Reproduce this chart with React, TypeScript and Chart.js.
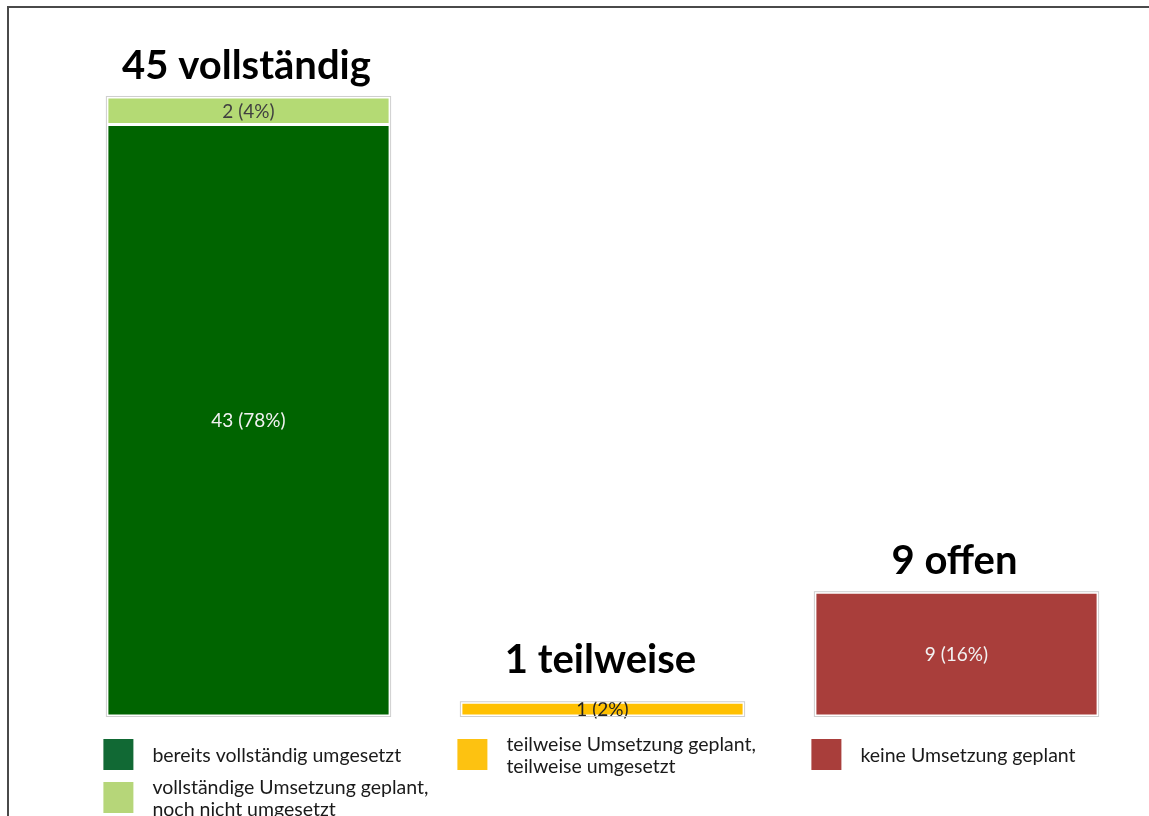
import React, { useEffect, useRef } from "react";
import { Chart, registerables } from "chart.js";
Chart.register(...registerables);

// ---- data ----
const categories = ["vollständig", "teilweise", "offen"];
const umgesetzt = [43, 0, 0];
const geplant = [2, 0, 0];
const teilweise = [0, 1, 0];
const keine = [0, 0, 9];
const legendLines = [
  ["bereits vollständig umgesetzt"],
  ["vollständige Umsetzung geplant,", "noch nicht umgesetzt"],
  ["teilweise Umsetzung geplant,", "teilweise umgesetzt"],
  ["keine Umsetzung geplant"],
];
const yMax = 50;

// ---- style ----
const barColors = ["#006400", "#b4da74", "#ffc000", "#a93e3b"];
const legendColors = ["#116934", "#b6d679", "#fdc211", "#a93e3b"];
const labelColors = ["#f2f2f2", "#404040", "#222222", "#f2f2f2"];
const FONT = "Lato, 'Open Sans', sans-serif";

const W = 1149;
const H = 816;

const overlayPlugin = {
  id: "overlay",
  beforeDraw(chart: any) {
    const ctx = chart.ctx;
    ctx.save();
    ctx.fillStyle = "#ffffff";
    ctx.fillRect(0, 0, chart.width, chart.height);
    ctx.fillStyle = "#4a4a4a";
    ctx.fillRect(7, 6, chart.width - 7, 2);
    ctx.fillRect(7, 6, 2, chart.height - 6);
    ctx.restore();
  },
  afterDatasetsDraw(chart: any) {
    const ctx = chart.ctx;
    const yScale = chart.scales.y;
    const y0 = yScale.getPixelForValue(0);
    const datasets = chart.data.datasets;
    const grand = datasets.reduce(
      (s: number, d: any) => s + d.data.reduce((a: number, b: number) => a + b, 0),
      0
    );
    ctx.save();
    categories.forEach((cat, ci) => {
      let top = Infinity;
      let left = 0;
      let right = 0;
      let total = 0;
      datasets.forEach((ds: any, di: number) => {
        const v = ds.data[ci];
        if (!v) return;
        total += v;
        const el = chart.getDatasetMeta(di).data[ci] as any;
        const p = el.getProps(["x", "y", "base", "width"], true);
        top = Math.min(top, p.y);
        left = p.x - p.width / 2;
        right = p.x + p.width / 2;
        // value label
        ctx.fillStyle = labelColors[di];
        ctx.font = `19px ${FONT}`;
        ctx.textAlign = "center";
        ctx.textBaseline = "middle";
        const pct = Math.round((v / grand) * 100);
        ctx.fillText(`${v} (${pct}%)`, p.x, (p.y + p.base) / 2 + 1);
      });
      if (top === Infinity) return;
      // outline
      ctx.strokeStyle = "#cfcfcf";
      ctx.lineWidth = 1;
      ctx.strokeRect(left - 0.5, top - 0.5, right - left + 1, y0 - top + 1);
      // title
      ctx.fillStyle = "#000000";
      ctx.font = `bold 40px ${FONT}`;
      ctx.textAlign = "center";
      ctx.textBaseline = "alphabetic";
      const ty = Math.min(top - 18, y0 - 43);
      ctx.fillText(`${total} ${cat}`, (left + right) / 2 - 2, ty);
    });

    // legend
    const rowCount: number[] = categories.map(() => 0);
    datasets.forEach((ds: any, di: number) => {
      const ci = ds.data.findIndex((v: number) => v > 0);
      if (ci < 0) return;
      const el = chart.getDatasetMeta(di).data[ci] as any;
      const p = el.getProps(["x", "width"], true);
      const sx = p.x - p.width / 2 - 3.5;
      const row = rowCount[ci]++;
      const sy = y0 + 23 + row * 43;
      ctx.fillStyle = legendColors[di];
      ctx.fillRect(sx, sy, 30, 31);
      const lines = legendLines[di];
      ctx.fillStyle = "#1a1a1a";
      ctx.font = `19.5px ${FONT}`;
      ctx.textAlign = "left";
      ctx.textBaseline = "middle";
      const cy = sy + 15.5 + 1;
      lines.forEach((ln, li) => {
        ctx.fillText(ln, sx + 49, cy + (li - (lines.length - 1) / 2) * 22);
      });
    });
    ctx.restore();
  },
};

export default function App() {
  const ref = useRef<HTMLCanvasElement>(null);
  useEffect(() => {
    if (!ref.current) return;
    const series = [umgesetzt, geplant, teilweise, keine];
    const chart = new Chart(ref.current, {
      type: "bar",
      data: {
        labels: categories,
        datasets: series.map((d, i) => ({
          label: legendLines[i].join(" "),
          data: d,
          backgroundColor: barColors[i],
          borderColor: "#ffffff",
          borderWidth: 1.5,
          borderSkipped: false,
          categoryPercentage: 1,
          barPercentage: 0.8,
        })),
      },
      options: {
        responsive: false,
        animation: false,
        devicePixelRatio: 1,
        layout: { padding: { left: 71.5, right: 15.5, top: 28.2, bottom: 100 } },
        plugins: { legend: { display: false }, tooltip: { enabled: false } },
        scales: {
          x: { stacked: true, display: false },
          y: { stacked: true, display: false, min: 0, max: yMax },
        },
      },
      plugins: [overlayPlugin],
    });
    return () => chart.destroy();
  }, []);
  return (
    <div style={{ position: "fixed", left: 0, top: 0, width: W, height: H }}>
      <canvas ref={ref} width={W} height={H} style={{ display: "block" }} />
    </div>
  );
}
